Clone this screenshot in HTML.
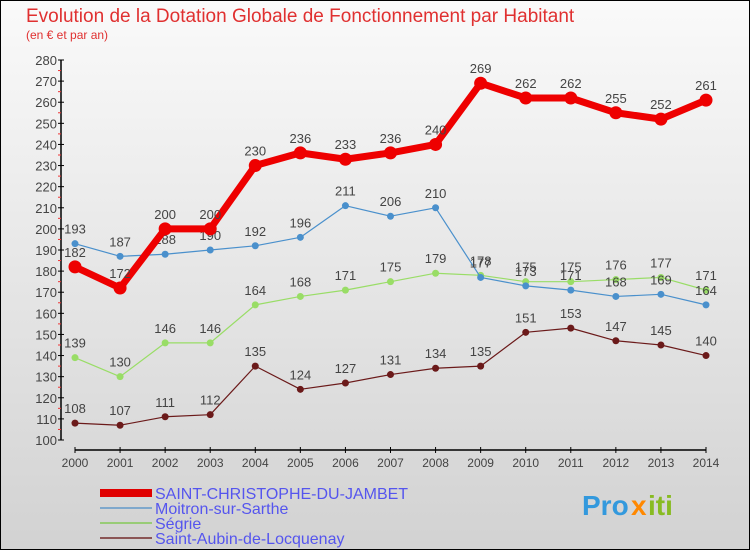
<!DOCTYPE html>
<html><head><meta charset="utf-8"><style>
body{margin:0;width:750px;height:550px;overflow:hidden;font-family:"Liberation Sans",sans-serif}
</style></head><body>
<svg id="c" width="750" height="550" xmlns="http://www.w3.org/2000/svg">
<defs><linearGradient id="bg" x1="0" y1="0" x2="0" y2="1"><stop offset="0" stop-color="#fafafa"/><stop offset="1" stop-color="#d2d2d2"/></linearGradient></defs>
<rect x="0.5" y="0.5" width="749" height="549" fill="url(#bg)" stroke="#000"/>
<text x="26" y="22" font-size="19" fill="#e03030">Evolution de la Dotation Globale de Fonctionnement par Habitant</text>
<text x="26" y="39" font-size="12" fill="#e03030">(en € et par an)</text>
<g id="axes"></g><g id="series"></g>
<g font-size="16" fill="#5555ee">
<rect x="100" y="489" width="52" height="8" fill="#e00000"/>
<text x="155" y="499">SAINT-CHRISTOPHE-DU-JAMBET</text>
<rect x="100" y="507" width="52" height="2" fill="#7fa8cc"/>
<text x="155" y="514">Moitron-sur-Sarthe</text>
<rect x="100" y="522" width="52" height="2" fill="#99cc77"/>
<text x="155" y="529">Ségrie</text>
<rect x="100" y="537" width="52" height="2" fill="#8b5555"/>
<text x="155" y="544">Saint-Aubin-de-Locquenay</text>
</g>
<g font-size="28" font-weight="bold">
<text x="582" y="515" fill="#3399dd">Pro</text><text x="631" y="515" fill="#ff8800">x</text><text x="648" y="515" fill="#88bb22">iti</text>
</g>
</svg>
<script>
const years=[2000,2001,2002,2003,2004,2005,2006,2007,2008,2009,2010,2011,2012,2013,2014];
const yTicks=[100,110,120,130,140,150,160,170,180,190,200,210,220,230,240,250,260,270,280];
const sc=[182,172,200,200,230,236,233,236,240,269,262,262,255,252,261];
const moitron=[193,187,188,190,192,196,211,206,210,177,173,171,168,169,164];
const segrie=[139,130,146,146,164,168,171,175,179,178,175,175,176,177,171];
const aubin=[108,107,111,112,135,124,127,131,134,135,151,153,147,145,140];
const NS="http://www.w3.org/2000/svg";
const X=i=>75+i*(706-75)/14;
const Y=v=>440-(v-100)*(380/180);
function mk(t,a,p){const e=document.createElementNS(NS,t);for(const k in a)e.setAttribute(k,a[k]);p.appendChild(e);return e;}
const ax=document.getElementById('axes');
let l=mk('line',{x1:61,y1:60,x2:61,y2:440,stroke:'#000','stroke-width':1.5},ax);


l=mk('line',{x1:75,y1:450,x2:706,y2:450,stroke:'#000','stroke-width':1.5},ax);


yTicks.forEach(v=>{
 mk('line',{x1:58,y1:Y(v),x2:64,y2:Y(v),stroke:'#000'},ax);
 if(v<280)mk('line',{x1:58,y1:Y(v+5),x2:61,y2:Y(v+5),stroke:'#e33'},ax);
 const t=mk('text',{x:57,y:Y(v)+5,'text-anchor':'end','font-size':13,fill:'#444'},ax);
 t.textContent=v;
 
 
});
years.forEach((y,i)=>{
 mk('line',{x1:X(i),y1:447,x2:X(i),y2:453,stroke:'#000'},ax);
 const t=mk('text',{x:X(i),y:467,'text-anchor':'middle','font-size':12,fill:'#444'},ax);
 t.textContent=y;
 
 
});
const sg=document.getElementById('series');
function draw(vals,name,color,w,r){
 const g=mk('g',{},sg);
 
 
 const p=mk('polyline',{points:vals.map((v,i)=>X(i)+','+Y(v)).join(' '),fill:'none',stroke:color,'stroke-width':w,'stroke-linejoin':'round'},g);
 
 
 vals.forEach((v,i)=>{
  const c=mk('circle',{cx:X(i),cy:Y(v),r:r,fill:color},g);
  
  
  const t=mk('text',{x:X(i),y:Y(v)-10,'text-anchor':'middle','font-size':13,fill:'#444'},g);
  t.textContent=v;
  
  
 });
}
draw(aubin,'saint-aubin','#6b1a1a',1.2,3.5);
draw(segrie,'segrie','#99dd66',1.2,3.5);
draw(moitron,'moitron','#4a90cc',1.2,3.5);
draw(sc,'saint-christophe','#ee0000',7,6.5);
</script>
</body></html>
